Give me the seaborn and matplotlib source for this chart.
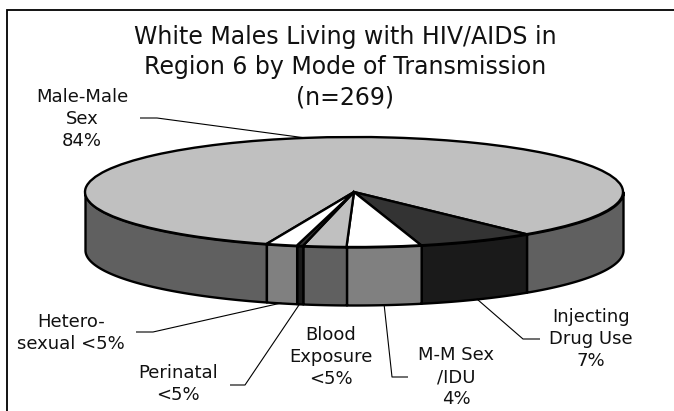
import numpy as np
import matplotlib
matplotlib.use("Agg")
import matplotlib.pyplot as plt
import matplotlib.colors as mcolors
from matplotlib.patches import Rectangle
import seaborn as sns

# Cases by mode of transmission (n = 269), in Excel series order
categories = ["Male-Male Sex", "Injecting Drug Use", "M-M Sex/IDU",
              "Blood Exposure", "Perinatal", "Heterosexual"]
counts = [225, 19, 12, 7, 1, 5]
slice_labels = ["Male-Male\nSex\n84%", "Injecting\nDrug Use\n7%", "M-M Sex\n/IDU\n4%",
                "Blood\nExposure\n<5%", "Perinatal\n<5%", "Hetero-\nsexual <5%"]
top_colors = ["#c0c0c0", "#333333", "#ffffff", "#c0c0c0", "#333333", "#ffffff"]
title_lines = ["White Males Living with HIV/AIDS in",
               "Region 6 by Mode of Transmission",
               "(n=269)"]

sns.set_theme(style="white")
plt.rcParams["font.family"] = ["DejaVu Sans"]

W, H = 674, 411
fig = plt.figure(figsize=(W / 100, H / 100), dpi=100)
ax = fig.add_axes([0, 0, 1, 1])

# pie placement in pixels: centre, horizontal / vertical radius, rim depth
CX, CY, RX, RY, DEPTH = 354, 192, 269, 55, 58


def to_data(xp, yp):
    return (xp - CX) / RX, (CY - yp) / RY


# top face of the pie
wedges, _ = ax.pie(counts, colors=top_colors, startangle=251, counterclock=False,
                   radius=1, center=(0, 0),
                   wedgeprops=dict(edgecolor="black", linewidth=1.7, zorder=3))
ax.set_aspect("auto")
xa, ya = to_data(0, H)
xb, yb = to_data(W, 0)
ax.set_xlim(xa, xb)
ax.set_ylim(ya, yb)
ax.axis("off")

# visible rim (front half) of every slice, shaded darker than its top
d = DEPTH / RY
for w, col in zip(wedges, top_colors):
    side = np.array(mcolors.to_rgb(col)) * 0.5
    for k in (-1, 0, 1):
        lo = max(w.theta1, -180 + 360 * k)
        hi = min(w.theta2, 360 * k)
        if hi - lo <= 0:
            continue
        th = np.radians(np.linspace(lo, hi, 120))
        xs, ys = np.cos(th), np.sin(th)
        ax.fill_between(xs, ys - d, ys, facecolor=side, edgecolor="black",
                        linewidth=1.7, zorder=2)

# label blocks (pixel centres) and the label end of each leader line
label_pos = [(82, 119), (591, 339), (456, 377), (331, 357), (178, 384), (71, 333)]
leader_px = [[(140, 118), (157, 118)],
             [(540, 339), (523, 339)],
             [(408, 377), (392, 377)],
             None,
             [(230, 385), (245, 385)],
             [(136, 332), (153, 332)]]

for w, text, pos, lead in zip(wedges, slice_labels, label_pos, leader_px):
    tx, ty = to_data(*pos)
    ax.text(tx, ty, text, ha="center", va="center", multialignment="center",
            fontsize=13, linespacing=1.32, color="#111111", zorder=5)
    if lead is None:
        continue
    m = np.radians((w.theta1 + w.theta2) / 2)
    if np.sin(m) > 0:
        target = (np.cos(m), np.sin(m))
    else:
        target = (np.cos(m), np.sin(m) - d)
    pts = [to_data(*p) for p in lead] + [target]
    ax.plot([p[0] for p in pts], [p[1] for p in pts], color="black",
            linewidth=0.8, zorder=4, solid_capstyle="butt")

tx, ty = to_data(345, 67)
ax.text(tx, ty, "\n".join(title_lines), ha="center", va="center",
        multialignment="center", fontsize=17, linespacing=1.34, color="#111111")

# chart-area border
fig.patches.append(Rectangle((7 / W, -0.05), 1.2, (H - 10) / H + 0.05,
                             transform=fig.transFigure, fill=False,
                             edgecolor="black", linewidth=1.3))

fig.savefig("out.png", dpi=100)
